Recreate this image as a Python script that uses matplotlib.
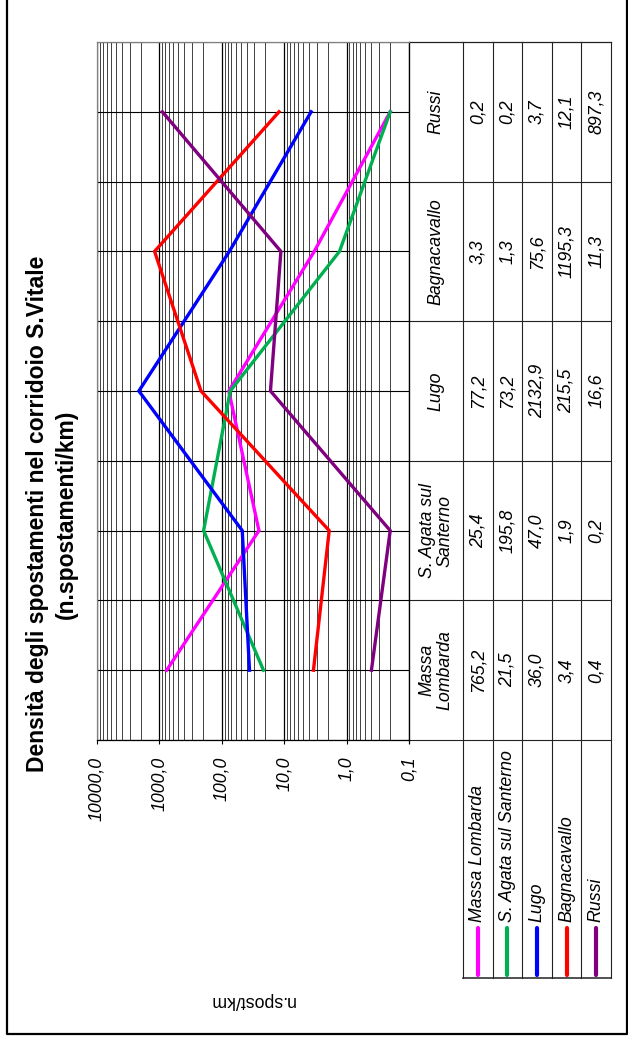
import numpy as np
import matplotlib
matplotlib.use("Agg")
import matplotlib.pyplot as plt

plt.rcParams['font.family'] = ['Liberation Sans', 'DejaVu Sans']

# dati (n. spostamenti/km)
categorie = ["Massa Lombarda", "S. Agata sul Santerno", "Lugo", "Bagnacavallo", "Russi"]
etichette_cat = ["Massa\nLombarda", "S. Agata sul\nSanterno", "Lugo", "Bagnacavallo", "Russi"]
serie_nomi = ["Massa Lombarda", "S. Agata sul Santerno", "Lugo", "Bagnacavallo", "Russi"]
massa = [765.2, 25.4, 77.2, 3.3, 0.2]
sagata = [21.5, 195.8, 73.2, 1.3, 0.2]
lugo = [36.0, 47.0, 2132.9, 75.6, 3.7]
bagna = [3.4, 1.9, 215.5, 1195.3, 12.1]
russi = [0.4, 0.2, 16.6, 11.3, 897.3]
serie = [massa, sagata, lugo, bagna, russi]
colori = ["#FF00FF", "#00B050", "#0000FF", "#FF0000", "#800080"]
tick_val = [10000, 1000, 100, 10, 1, 0.1]
tick_lab = ["10000,0", "1000,0", "100,0", "10,0", "1,0", "0,1"]

W, H = 628, 1046
fig = plt.figure(figsize=(W / 100, H / 100), dpi=100)
FS = 12.8  # corpo del testo

# area del grafico in pixel
X0, X1 = 97, 409
TOP, BOT = 42, 740
n = len(categorie)
step = (BOT - TOP) / n

ax = fig.add_axes([X0 / W, 1 - BOT / H, (X1 - X0) / W, (BOT - TOP) / H])
ax.set_xscale('log')
ax.set_xlim(10000, 0.1)
ax.set_ylim(-0.5, n - 0.5)

ypos = np.arange(n)
for vals, col in zip(serie, colori):
    ax.plot(vals, ypos, color=col, lw=2.4, solid_joinstyle='miter', zorder=3)

ax.xaxis.set_minor_locator(matplotlib.ticker.LogLocator(base=10, subs=np.arange(2, 10)))
ax.xaxis.set_minor_formatter(matplotlib.ticker.NullFormatter())
ax.set_xticks(tick_val)
ax.set_xticklabels(tick_lab, rotation=90, fontstyle='italic', fontsize=FS)
ax.tick_params(axis='x', which='major', length=3, width=0.8, pad=9, color='black')
ax.tick_params(axis='x', which='minor', length=0)
ax.set_yticks(ypos)
ax.set_yticks(np.arange(n + 1) - 0.5, minor=True)
ax.tick_params(axis='y', which='both', length=0, labelleft=False)
ax.grid(True, which='major', axis='x', color='black', lw=0.9)
ax.grid(True, which='minor', axis='x', color='#333333', lw=0.65)
ax.grid(True, which='both', axis='y', color='black', lw=0.8)
ax.set_axisbelow(True)
ax.spines['top'].set_color('#808080')
ax.spines['left'].set_color('#808080')
ax.spines['right'].set_color('black')
ax.spines['bottom'].set_color('black')
for s in ax.spines.values():
    s.set_linewidth(0.9)

# sovrapposizione in pixel per tabella, legenda e titoli
tab = fig.add_axes([0, 0, 1, 1], zorder=-1)
tab.set_xlim(0, W)
tab.set_ylim(H, 0)
tab.axis('off')

LEG_BOT = 978
col_x = [463 + 29.6 * k for k in range(n + 1)]
lc = '#222222'

# righe orizzontali della tabella
tab.plot([X1, col_x[-1]], [TOP, TOP], color='#808080', lw=0.9)
for k in range(1, n + 1):
    yb = BOT - k * step
    tab.plot([X1, col_x[-1]], [yb, yb], color=lc, lw=0.8)
tab.plot([X1, col_x[-1]], [BOT, BOT], color=lc, lw=0.8)
tab.plot([col_x[0], col_x[-1]], [LEG_BOT, LEG_BOT], color=lc, lw=1.1)
# righe verticali
tab.plot([X1, X1], [TOP, BOT + 3], color=lc, lw=0.8)
for xx in col_x:
    tab.plot([xx, xx], [TOP, LEG_BOT], color=lc, lw=0.8)

# etichette categorie e valori
for i in range(n):
    cy = BOT - (i + 0.5) * step
    tab.text((X1 + col_x[0]) / 2, cy, etichette_cat[i], rotation=90, ha='center', va='center',
             fontstyle='italic', fontsize=FS, multialignment='center', linespacing=1.05)
    for j, vals in enumerate(serie):
        cx = (col_x[j] + col_x[j + 1]) / 2
        tab.text(cx, cy, f"{vals[i]:.1f}".replace('.', ','), rotation=90, ha='center', va='center',
                 fontstyle='italic', fontsize=FS)

# legenda
for j, (nome, col) in enumerate(zip(serie_nomi, colori)):
    cx = (col_x[j] + col_x[j + 1]) / 2
    tab.plot([cx, cx], [928, 975], color=col, lw=3, solid_capstyle='round')
    tab.text(cx, 922, nome, rotation=90, ha='center', va='bottom', fontstyle='italic', fontsize=FS)

# titolo e titolo asse
tab.text(52, 514, "Densità degli spostamenti nel corridoio S.Vitale\n(n.spostamenti/km)",
         rotation=90, ha='center', va='center', fontweight='bold', fontsize=16.5,
         multialignment='center', linespacing=1.3)
tab.text(252, 1000, "n.spost/km", rotation=180, ha='center', va='center', fontsize=FS)

# cornice esterna
tab.plot([7, 7, 626.5, 626.5], [-2, 1034, 1034, -2], color='black', lw=1.6)

fig.savefig("out.png", dpi=100)
